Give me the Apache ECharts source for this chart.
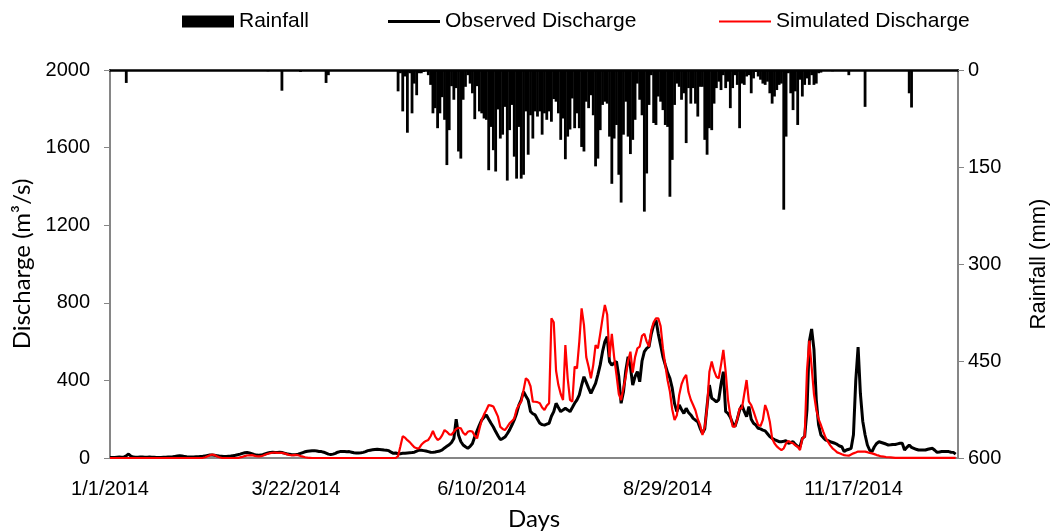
<!DOCTYPE html>
<html><head><meta charset="utf-8">
<script src="https://cdn.jsdelivr.net/npm/echarts@6/dist/echarts.min.js"></script>
<style>html,body{margin:0;padding:0;background:#fff}#c{width:1052px;height:531px}</style>
</head><body><div id="c"></div>
<script>
// Day index 0 = 1/1/2014
const xTickLabels = ['1/1/2014', '3/22/2014', '6/10/2014', '8/29/2014', '11/17/2014'];

const observed = [
  3,3,3,4,5,4,5,12,20,10,
  5,4,4,5,5,4,4,5,4,4,
  3,3,3,4,4,5,5,6,8,10,
  11,10,8,6,5,5,5,6,7,8,
  9,11,13,15,15,14,12,10,9,8,
  8,9,10,12,14,17,20,24,27,28,
  26,22,18,15,14,15,18,22,26,29,
  30,28,29,30,28,25,22,20,18,17,
  18,20,24,28,32,35,36,37,38,36,
  34,33,30,25,20,18,20,24,30,33,
  34,33,32,33,30,27,26,26,27,29,
  33,38,40,42,44,45,44,43,41,40,
  38,30,24,26,22,22,24,25,26,27,
  28,30,35,40,40,38,36,33,30,29,
  31,34,36,42,52,60,68,80,100,200,
  119,85,67,58,50,60,75,110,140,170,
  196,210,222,200,179,160,136,115,95,100,
  108,125,145,170,196,230,273,300,342,320,
  299,240,228,222,200,179,172,170,175,179,
  215,239,282,260,239,248,256,248,239,260,
  282,300,325,375,419,390,360,333,359,385,
  430,480,548,600,625,497,479,490,497,420,
  282,340,450,522,470,376,420,445,393,500,
  548,565,574,640,686,711,640,582,522,480,
  440,411,360,280,239,273,250,230,256,235,
  222,204,195,187,153,127,150,270,376,308,
  300,290,300,380,445,239,230,210,179,162,
  200,247,273,240,213,265,200,179,170,153,
  150,144,140,125,110,101,95,90,84,84,
  86,89,76,80,84,70,60,58,101,110,
  250,600,665,560,300,170,119,105,93,90,
  84,80,76,70,62,58,33,41,45,50,
  120,400,572,330,190,120,67,40,33,58,
  75,84,80,76,72,67,68,70,70,73,
  76,76,41,55,67,55,50,45,41,41,
  41,41,45,48,50,40,29,31,33,33,
  33,33,30,29,20
];

const simulated = [
  0,0,0,0,0,0,0,0,0,0,
  0,0,0,0,0,0,0,0,0,0,
  0,0,0,0,0,0,0,0,0,0,
  0,0,0,0,0,0,0,0,0,0,
  1,4,9,14,18,15,9,4,1,0,
  0,0,0,0,0,0,3,6,10,13,
  14,15,12,9,8,9,13,18,22,25,
  27,28,26,27,26,24,20,16,14,15,
  16,14,10,7,4,2,1,0,0,0,
  0,0,0,0,0,0,0,0,0,0,
  0,0,0,0,0,0,0,0,0,0,
  0,0,0,0,0,0,0,0,0,0,
  0,0,0,0,10,60,112,105,92,82,
  68,55,50,50,68,80,88,93,112,139,
  110,93,100,118,144,135,122,120,135,150,
  156,153,130,119,135,139,136,115,101,150,
  196,225,247,273,270,265,240,213,160,150,
  144,160,179,190,204,250,273,290,350,411,
  400,370,290,290,288,282,260,247,270,282,
  720,700,450,376,330,299,582,411,300,290,
  471,462,600,771,686,520,470,411,479,582,
  565,640,720,789,740,520,640,520,428,330,
  299,360,420,500,548,440,520,565,574,630,
  640,600,574,660,700,720,720,680,565,480,
  400,342,250,196,220,325,380,410,428,340,
  300,273,245,200,170,119,160,260,445,497,
  450,419,411,480,557,445,300,220,162,162,
  200,256,256,330,402,290,273,240,204,170,
  165,196,273,240,187,101,76,60,50,41,
  50,76,88,80,76,65,58,41,101,110,
  450,605,470,330,250,200,170,136,105,84,
  65,50,40,29,24,19,15,13,12,18,
  24,28,33,33,33,33,30,26,24,20,
  15,12,8,7,5,4,3,2,1,1,
  1,1,1,1,1,1,1,1,1,1,
  1,1,1,1,1,1,1,1,1,1,
  1,1,1,1,1
];

const rainfall = [
  0,0,0,0,0,0,0,20,0,0,
  0,0,0,0,0,0,0,0,0,0,
  0,0,0,0,0,0,0,0,0,0,
  0,0,0,0,0,0,0,0,0,0,
  0,0,0,0,0,0,0,0,0,0,
  0,0,0,0,0,0,0,0,0,0,
  0,0,0,0,0,0,0,0,2,0,
  0,0,0,0,32,0,0,0,0,0,
  0,0,3,0,0,0,0,0,0,0,
  0,0,0,20,8,0,0,0,0,0,
  0,0,0,0,0,0,0,0,0,0,
  0,0,0,0,0,0,0,0,0,0,
  0,0,0,0,33,5,64,10,97,5,
  67,21,39,5,5,3,0,8,23,67,
  59,90,67,42,77,147,93,25,46,28,
  126,137,46,26,8,21,36,76,25,64,
  67,75,77,155,88,124,157,61,106,100,
  57,171,93,54,134,168,88,168,162,64,
  131,70,106,64,72,64,100,67,77,64,
  80,45,49,67,108,75,138,103,92,44,
  90,67,90,119,126,49,59,39,70,149,
  137,93,54,49,52,103,176,106,85,162,
  205,100,49,103,130,108,77,21,46,70,
  219,160,54,8,82,85,41,49,62,85,
  88,196,139,54,21,26,46,36,113,28,
  52,28,52,72,26,26,108,131,90,93,
  52,28,18,31,8,28,18,59,28,8,
  23,90,21,23,10,8,36,13,3,10,
  15,21,23,18,36,52,41,31,23,21,
  216,103,5,36,62,33,85,15,41,23,
  13,23,8,23,21,5,4,0,0,0,
  0,2,0,0,0,0,0,0,8,0,
  0,0,0,0,0,57,0,0,0,0,
  0,0,0,0,0,0,0,0,0,0,
  0,0,0,0,36,58,0,0,0,0,
  0,0,0,0,0,0,0,0,0,0,
  0,0,0,0,0
];

const pair = arr => arr.map((v, i) => [i, v]);
const ARIAL = 'Liberation Sans, Arial, sans-serif';
const TITLE = 'Lato, Carlito, sans-serif';
const AXIS_GRAY = '#868686';
const legendText = { fontFamily: ARIAL, fontSize: 21, color: '#000' };

const chart = echarts.init(document.getElementById('c'), null, { renderer: 'canvas' });
chart.setOption({
  animation: false,
  backgroundColor: '#fff',
  grid: { left: 110, right: 94, top: 70, bottom: 73, containLabel: false, outerBoundsMode: 'none' },
  legend: [
    { data: ['Rainfall'], left: 182, top: 11, padding: 0, itemWidth: 52, itemHeight: 12, icon: 'rect',
      selectedMode: false, textStyle: legendText },
    { data: ['Observed Discharge'], left: 388, top: 11, padding: 0, itemWidth: 52, itemHeight: 3, icon: 'rect',
      selectedMode: false, textStyle: legendText },
    { data: ['Simulated Discharge'], left: 719, top: 11, padding: 0, itemWidth: 52, itemHeight: 2, icon: 'rect',
      selectedMode: false, textStyle: legendText }
  ],
  xAxis: [
    {
      type: 'value', min: 0, max: 365, interval: 80, position: 'bottom',
      axisLine: { onZero: false, lineStyle: { color: AXIS_GRAY, width: 2 } },
      axisTick: { show: false }, splitLine: { show: false },
      axisLabel: {
        formatter: v => (v % 80 === 0 && xTickLabels[v / 80]) ? xTickLabels[v / 80] : '',
        showMaxLabel: false, margin: 21, color: '#000', fontSize: 20, fontFamily: ARIAL
      },
      name: 'Days', nameLocation: 'middle', nameGap: 49,
      nameTextStyle: { fontFamily: TITLE, fontSize: 24, color: '#000' }
    },
    {
      type: 'value', min: 0, max: 365, position: 'top',
      axisLine: { show: true, onZero: false, lineStyle: { color: '#000', width: 2.5 } },
      axisTick: { show: false }, axisLabel: { show: false }, splitLine: { show: false }
    }
  ],
  yAxis: [
    {
      type: 'value', min: 0, max: 2000, interval: 400, position: 'left',
      axisLine: { show: true, onZero: false, lineStyle: { color: AXIS_GRAY, width: 2 } },
      axisTick: { show: true, length: 6, lineStyle: { color: AXIS_GRAY, width: 1 } },
      splitLine: { show: false },
      axisLabel: { formatter: v => String(v), margin: 20, color: '#000', fontSize: 20, fontFamily: ARIAL },
      name: 'Discharge (m³/s)', nameLocation: 'middle', nameGap: 74,
      nameTextStyle: { fontFamily: TITLE, fontSize: 24, color: '#000' }
    },
    {
      type: 'value', min: 0, max: 600, interval: 150, position: 'right', inverse: true,
      axisLine: { show: true, onZero: false, lineStyle: { color: AXIS_GRAY, width: 2 } },
      axisTick: { show: true, length: 6, lineStyle: { color: AXIS_GRAY, width: 1 } },
      splitLine: { show: false },
      axisLabel: { formatter: v => String(v), margin: 10, color: '#000', fontSize: 20, fontFamily: ARIAL },
      name: 'Rainfall (mm)', nameLocation: 'middle', nameGap: 70,
      nameTextStyle: { fontFamily: ARIAL, fontSize: 22, color: '#000' }
    }
  ],
  series: [
    { name: 'Rainfall', type: 'bar', xAxisIndex: 0, yAxisIndex: 1, data: pair(rainfall),
      barWidth: 2.8, itemStyle: { color: '#000' }, z: 1 },
    { name: 'Observed Discharge', type: 'line', xAxisIndex: 0, yAxisIndex: 0, data: pair(observed),
      symbol: 'none', lineStyle: { color: '#000', width: 3 }, itemStyle: { color: '#000' }, z: 2 },
    { name: 'Simulated Discharge', type: 'line', xAxisIndex: 0, yAxisIndex: 0, data: pair(simulated),
      symbol: 'none', lineStyle: { color: '#ff0000', width: 2.2 }, itemStyle: { color: '#ff0000' }, z: 3 }
  ]
});
</script>
</body></html>
